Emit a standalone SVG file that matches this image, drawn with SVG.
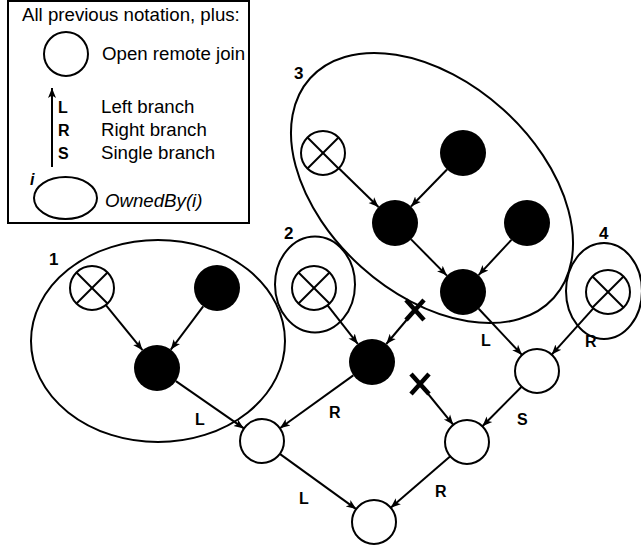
<svg xmlns="http://www.w3.org/2000/svg" width="641" height="550" viewBox="0 0 641 550">
<defs>
<marker id="arr" markerUnits="userSpaceOnUse" markerWidth="10" markerHeight="10" viewBox="0 0 10 8" refX="10" refY="4" orient="auto">
<path d="M0,0 L10,4 L0,8 L2.5,4 z" fill="#000"/>
</marker>
<g id="xc"><circle r="22" fill="#fff" stroke="#000" stroke-width="2"/><line x1="-15.5" y1="-15.5" x2="15.5" y2="15.5" stroke="#000" stroke-width="2"/><line x1="15.5" y1="-15.5" x2="-15.5" y2="15.5" stroke="#000" stroke-width="2"/></g>
<g id="cut"><line x1="-9" y1="-10" x2="9" y2="10"/><line x1="9" y1="-10" x2="-9" y2="10"/></g>
</defs>
<style>
text{font-family:"Liberation Sans",Arial,sans-serif;fill:#000}
.t{font-size:18.67px}
.b{font-size:16px;font-weight:bold}
.n{font-size:17px;font-weight:bold}
.own{fill:none;stroke:#000;stroke-width:2}
.open{fill:#fff;stroke:#000;stroke-width:2}
.blk{fill:#000}
.e{stroke:#000;stroke-width:2;fill:none;marker-end:url(#arr)}
.cut{stroke:#000;stroke-width:4.5}
</style>
<rect width="641" height="550" fill="#fff"/>

<g id="legend">
<rect x="8" y="1" width="241" height="222" fill="#fff" stroke="#000" stroke-width="2"/>
<text class="t" x="22" y="21">All previous notation, plus:</text>
<circle class="open" cx="66" cy="54" r="22"/>
<text class="t" x="102" y="60">Open remote join</text>
<line x1="52" y1="167" x2="52" y2="88" class="e"/>
<text class="b" x="58" y="113">L</text>
<text class="b" x="58" y="136">R</text>
<text class="b" x="58" y="159">S</text>
<text class="t" x="101" y="113">Left branch</text>
<text class="t" x="101" y="136">Right branch</text>
<text class="t" x="101" y="159">Single branch</text>
<text class="b" x="30" y="185" font-style="italic">i</text>
<ellipse class="own" cx="65.5" cy="198" rx="31.5" ry="21"/>
<text class="t" x="105" y="207" font-style="italic">OwnedBy(i)</text>
</g>

<g id="owned1"><ellipse class="own" cx="158" cy="341" rx="127" ry="101"/><text class="n" x="49" y="265">1</text></g>
<g id="owned2"><ellipse class="own" cx="315" cy="284.5" rx="40" ry="48"/><text class="n" x="284" y="239">2</text></g>
<g id="owned3"><ellipse class="own" cx="432" cy="188" rx="164" ry="106" transform="rotate(42 432 188)"/><text class="n" x="294" y="79">3</text></g>
<g id="owned4"><ellipse class="own" cx="604" cy="291" rx="38" ry="48"/><text class="n" x="599" y="239">4</text></g>

<g id="connectors">
<line class="e" x1="105.9" y1="305.1" x2="142.5" y2="350.2"/>
<line class="e" x1="203.2" y1="306.4" x2="170.8" y2="349.6"/>
<line class="e" x1="175.9" y1="381.1" x2="243.9" y2="428.4"/>
<line class="e" x1="327.6" y1="305.3" x2="357.8" y2="343.9"/>
<line class="e" x1="415" y1="310" x2="386.3" y2="344.0"/>
<line class="e" x1="353.3" y1="375.4" x2="279.9" y2="428.2"/>
<line class="e" x1="338.8" y1="168.3" x2="378.5" y2="207.0"/>
<line class="e" x1="447.0" y1="169.5" x2="411.0" y2="206.5"/>
<line class="e" x1="411.1" y1="239.4" x2="446.9" y2="275.6"/>
<line class="e" x1="511.4" y1="239.9" x2="478.6" y2="275.1"/>
<line class="e" x1="478.7" y1="308.8" x2="522.0" y2="354.9"/>
<line class="e" x1="593.3" y1="308.4" x2="551.7" y2="354.6"/>
<line class="e" x1="521.6" y1="386.7" x2="482.4" y2="426.3"/>
<line class="e" x1="420" y1="384" x2="453.3" y2="424.8"/>
<line class="e" x1="279.8" y1="453.9" x2="356.2" y2="509.1"/>
<line class="e" x1="450.3" y1="456.3" x2="390.7" y2="507.7"/>
<use href="#cut" class="cut" x="415" y="310"/>
<use href="#cut" class="cut" x="420" y="384"/>
<text class="b" x="195" y="425">L</text>
<text class="b" x="329" y="418">R</text>
<text class="b" x="299" y="504">L</text>
<text class="b" x="435" y="497">R</text>
<text class="b" x="517" y="425">S</text>
<text class="b" x="481" y="346">L</text>
<text class="b" x="585" y="347">R</text>
</g>

<g id="n-x1"><use href="#xc" x="92" y="288"/></g>
<g id="n-b1top"><circle class="blk" cx="217" cy="288" r="23"/></g>
<g id="n-b1mid"><circle class="blk" cx="157" cy="368" r="23"/></g>
<g id="n-x2"><use href="#xc" x="314" y="288"/></g>
<g id="n-b2"><circle class="blk" cx="372" cy="362" r="23"/></g>
<g id="n-x3"><use href="#xc" x="323" y="153"/></g>
<g id="n-b3top"><circle class="blk" cx="463" cy="153" r="23"/></g>
<g id="n-b3ml"><circle class="blk" cx="395" cy="223" r="23"/></g>
<g id="n-b3mr"><circle class="blk" cx="527" cy="223" r="23"/></g>
<g id="n-b3bot"><circle class="blk" cx="463" cy="292" r="23"/></g>
<g id="n-x4"><use href="#xc" x="608" y="292"/></g>
<g id="n-o1"><circle class="open" cx="537" cy="371" r="22"/></g>
<g id="n-o2"><circle class="open" cx="467" cy="442" r="22"/></g>
<g id="n-o3"><circle class="open" cx="262" cy="441" r="22"/></g>
<g id="n-o4"><circle class="open" cx="374" cy="522" r="22"/></g>
</svg>
